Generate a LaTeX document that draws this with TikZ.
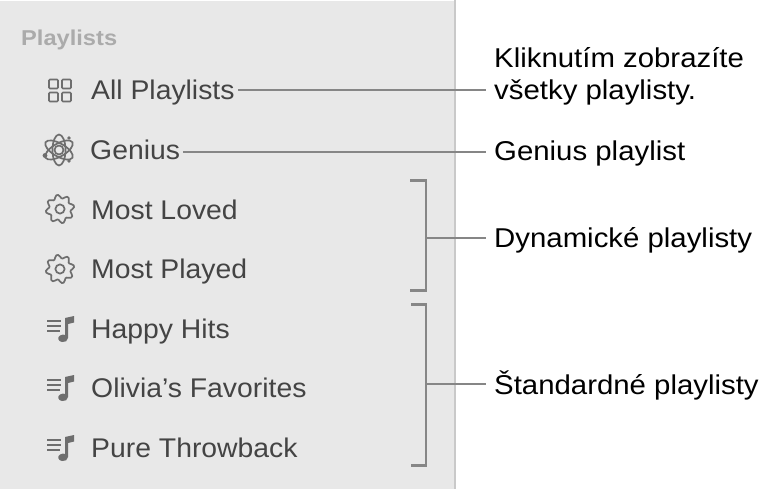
\documentclass[tikz,border=0pt]{standalone}
\usepackage{fontspec}
\setmainfont{Liberation Sans}
\newfontfamily\itemfam[FakeStretch=1.05]{Liberation Sans}
\newfontfamily\callfam[FakeStretch=1.08]{Liberation Sans}
\newfontfamily\headfam[FakeStretch=1.1]{Liberation Sans Bold}
\definecolor{panel}{HTML}{E8E8E8}
\definecolor{edge}{HTML}{C9C9C9}
\definecolor{conn}{HTML}{868686}
\definecolor{item}{HTML}{444444}
\definecolor{head}{HTML}{ABABAB}
\definecolor{ico}{HTML}{6E6E6E}
\tikzset{
  itemtext/.style={anchor=base west,inner sep=0pt,text=item,font=\itemfam\fontsize{27}{30}\selectfont},
  calltext/.style={anchor=base west,inner sep=0pt,text=black,font=\callfam\fontsize{27.2}{30}\selectfont},
  conline/.style={draw=conn,line width=2.4pt},
  iconline/.style={draw=ico,line width=1.7pt},
  gear/.pic={
    \draw[iconline,smooth cycle,tension=0.6] plot[samples=48,domain=0:352.5,variable=\t] ({(12.5+1.9*cos(8*\t+90))*cos(\t)},{(12.5+1.9*cos(8*\t+90))*sin(\t)});
    \draw[iconline] (0,0) circle (4.6);
  },
  musicicon/.pic={
    \draw[draw=ico,line width=2pt] (-13,-9)--(1,-9) (-13,-4)--(1,-4) (-13,1)--(0,1);
    \fill[ico] (5,-12) -- (14,-14) -- (14,-7.5) -- (8,-6) -- (8,8) .. controls (8,11) and (5,12.5) .. (2,12) .. controls (-2,11.5) and (-3,7.5) .. (0,5.5) .. controls (2,4.3) and (4,4.5) .. (5,5) -- cycle;
  },
  gridicon/.pic={
    \foreach \a/\b in {-11/-11,2/-11,-11/2,2/2}
      \draw[iconline,rounded corners=1pt] (\a,\b) rectangle ++(9,9);
  },
  atomicon/.pic={
    \foreach \r in {30,90,150}
      \draw[iconline,rotate=\r] (0,0) ellipse (15.5 and 6.5);
    \draw[iconline] (0,0) circle (4.5);
    \fill[ico] (-14,5.5) circle (2.4) (10,11) circle (1.8) (10,-12) circle (1.8);
  }
}
\begin{document}
\begin{tikzpicture}[x=1pt,y=-1pt]
\useasboundingbox (0,0) rectangle (779,489);
\fill[white] (0,0) rectangle (779,489);
\fill[panel] (0,1) rectangle (454,489);
\draw[edge,line width=2pt] (455,0) -- (455,489);

\node[anchor=base west,inner sep=0pt,text=head,font=\headfam\fontsize{21.5}{24}\selectfont] (hd) at (21,46) {Playlists};

\pic at (60,90.5) {gridicon};
\pic at (59,150) {atomicon};
\pic at (60,209) {gear};
\pic at (60,269) {gear};
\pic at (60,330) {musicicon};
\pic at (60,389) {musicicon};
\pic at (60,449) {musicicon};

\node[itemtext] (all) at (91,100) {All Playlists};
\node[itemtext] (gen) at (90,160) {Genius};
\node[itemtext] (ml) at (91,219) {Most Loved};
\node[itemtext] (mp) at (91,278) {Most Played};
\node[itemtext] (hh) at (91,338) {Happy Hits};
\node[itemtext] (of) at (91,397) {Olivia’s Favorites};
\node[itemtext] (pt) at (91,457) {Pure Throwback};

\node[calltext] (c1a) at (494,68) {Kliknutím zobrazíte};
\node[calltext] (c1b) at (494,100) {všetky playlisty.};
\node[calltext] (c2) at (494,161) {Genius playlist};
\node[calltext] (c3) at (494,247.5) {Dynamické playlisty};
\node[calltext] (c4) at (494,394.5) {Štandardné playlisty};

\coordinate (l1) at (486,90);
\coordinate (l2) at (486,152);
\coordinate (l3) at (486,238);
\coordinate (l4) at (486,384);
\coordinate (b1a) at (410,180.5);
\coordinate (b1b) at (426,180.5);
\coordinate (b1c) at (426,290.5);
\coordinate (b1d) at (410,290.5);
\coordinate (b1m) at (426,238);
\coordinate (b2a) at (411,304.5);
\coordinate (b2b) at (426,304.5);
\coordinate (b2c) at (426,465.5);
\coordinate (b2d) at (411,465.5);
\coordinate (b2m) at (426,384);
\coordinate (s1) at (238,90);
\coordinate (s2) at (183,152);

\draw[conline] (s1) -- (l1);
\draw[conline] (s2) -- (l2);
\draw[conline] (b1a) -- (b1b) -- (b1c) -- (b1d);
\draw[conline] (b1m) -- (l3);
\draw[conline] (b2a) -- (b2b) -- (b2c) -- (b2d);
\draw[conline] (b2m) -- (l4);
\end{tikzpicture}
\end{document}
